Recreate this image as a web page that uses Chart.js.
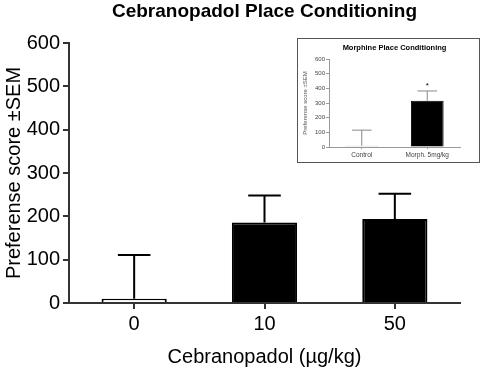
<!DOCTYPE html>
<html>
<head>
<meta charset="utf-8">
<script src="https://cdn.jsdelivr.net/npm/chart.js@4.4.0/dist/chart.umd.min.js"></script>
<style>
  body { margin: 0; background: #fff; }
  #wrap { position: relative; width: 482px; height: 375px; }
  #inset { position: absolute; left: 297px; top: 38px; width: 181px; height: 123px; border: 1px solid #555; background: #fff; }
  canvas { display: block; }
</style>
</head>
<body>
<div id="wrap">
  <canvas id="graficoBarra" width="482" height="375"></canvas>
  <div id="inset"><canvas id="graficoInset" width="181" height="123"></canvas></div>
</div>
<script>
// dados do grafico principal
const doses = ['0', '10', '50'];
const scores = [10, 186, 194];
const sem = [101, 62, 58];

// dados do grafico menor (morfina)
const insetGroups = ['Control', 'Morph. 5mg/kg'];
const insetScores = [8, 315];
const insetSem = [107, 67];
const insetMarks = ['', '*'];

const fonte = "'Liberation Sans', Arial, sans-serif";
Chart.defaults.font.family = fonte;

// barras de erro (so para cima)
const errorBars = {
  id: 'errorBars',
  afterDatasetsDraw(chart, args, opts) {
    const ctx = chart.ctx;
    const y = chart.scales.y;
    const meta = chart.getDatasetMeta(0);
    const valores = chart.data.datasets[0].data;
    ctx.save();
    ctx.strokeStyle = opts.color;
    ctx.lineWidth = opts.width;
    meta.data.forEach(function (bar, i) {
      const topo = y.getPixelForValue(valores[i] + opts.sem[i]);
      const meio = bar.width * opts.cap / 2;
      ctx.beginPath();
      ctx.moveTo(bar.x, bar.y);
      ctx.lineTo(bar.x, topo);
      ctx.moveTo(bar.x - meio, topo);
      ctx.lineTo(bar.x + meio, topo);
      ctx.stroke();
      if (opts.marks && opts.marks[i]) {
        ctx.fillStyle = '#000';
        ctx.font = opts.markFont;
        ctx.textAlign = 'center';
        ctx.textBaseline = 'bottom';
        ctx.fillText(opts.marks[i], bar.x, topo - 1);
      }
    });
    ctx.restore();
  }
};

// titulo centralizado sobre a area do grafico
const tituloTexto = {
  id: 'tituloTexto',
  afterDraw(chart, args, opts) {
    const ctx = chart.ctx;
    const area = chart.chartArea;
    ctx.save();
    ctx.font = opts.font;
    ctx.fillStyle = '#000';
    ctx.textAlign = 'center';
    ctx.textBaseline = 'middle';
    ctx.fillText(opts.text, (area.left + area.right) / 2, opts.y);
    ctx.restore();
  }
};

let myChart = new Chart(document.getElementById('graficoBarra'), {
  type: 'bar',
  data: {
    labels: doses,
    datasets: [{
      data: scores,
      backgroundColor: ['#fff', '#000', '#000'],
      borderColor: '#000',
      borderWidth: 2,
      barPercentage: 0.5,
      categoryPercentage: 1
    }]
  },
  options: {
    responsive: false,
    animation: false,
    layout: { padding: { top: 43, right: 22, left: 0, bottom: 0 } },
    plugins: {
      legend: { display: false },
      tooltip: { enabled: false },
      errorBars: { sem: sem, color: '#000', width: 2, cap: 0.5 },
      tituloTexto: { text: 'Cebranopadol Place Conditioning', font: 'bold 19px ' + fonte, y: 12 }
    },
    scales: {
      x: {
        offset: true,
        grid: { offset: false, drawOnChartArea: false, tickLength: 6, color: '#333', lineWidth: 2 },
        border: { color: '#333', width: 2 },
        ticks: { color: '#000', font: { size: 20 }, padding: 3 },
        title: { display: true, text: 'Cebranopadol (µg/kg)', color: '#000', font: { size: 20 }, padding: { top: 0, bottom: 6 } },
        afterFit: function (s) { s.height = 72; }
      },
      y: {
        min: 0,
        max: 600,
        ticks: { stepSize: 100, color: '#000', font: { size: 20 }, padding: 3 },
        grid: { drawOnChartArea: false, tickLength: 6, color: '#333', lineWidth: 2 },
        border: { color: '#333', width: 2 },
        title: { display: true, text: 'Preferense score ±SEM', color: '#000', font: { size: 20 }, padding: 2 },
        afterFit: function (s) { s.width = 69; }
      }
    }
  },
  plugins: [errorBars, tituloTexto]
});

let insetChart = new Chart(document.getElementById('graficoInset'), {
  type: 'bar',
  data: {
    labels: insetGroups,
    datasets: [{
      data: insetScores,
      backgroundColor: ['#fff', '#000'],
      borderColor: ['#888', '#000'],
      borderWidth: 1,
      barPercentage: 0.5,
      categoryPercentage: 1
    }]
  },
  options: {
    responsive: false,
    animation: false,
    layout: { padding: { top: 20, right: 19, left: 0, bottom: 0 } },
    plugins: {
      legend: { display: false },
      tooltip: { enabled: false },
      errorBars: { sem: insetSem, color: '#888', width: 1, cap: 0.6, marks: insetMarks, markFont: '8px ' + fonte },
      tituloTexto: { text: 'Morphine Place Conditioning', font: 'bold 7.5px ' + fonte, y: 9 }
    },
    scales: {
      x: {
        offset: true,
        grid: { offset: false, drawOnChartArea: false, tickLength: 2, color: '#999' },
        border: { color: '#999', width: 1 },
        ticks: { color: '#444', font: { size: 6.5 }, padding: 2 },
        afterFit: function (s) { s.height = 15; }
      },
      y: {
        min: 0,
        max: 600,
        ticks: { stepSize: 100, color: '#444', font: { size: 6 }, padding: 1 },
        grid: { drawOnChartArea: false, tickLength: 3, color: '#999' },
        border: { color: '#999', width: 1 },
        title: { display: true, text: 'Preferense score ±SEM', color: '#555', font: { size: 6 }, padding: 4 },
        afterFit: function (s) { s.width = 31; }
      }
    }
  },
  plugins: [errorBars, tituloTexto]
});
</script>
</body>
</html>
